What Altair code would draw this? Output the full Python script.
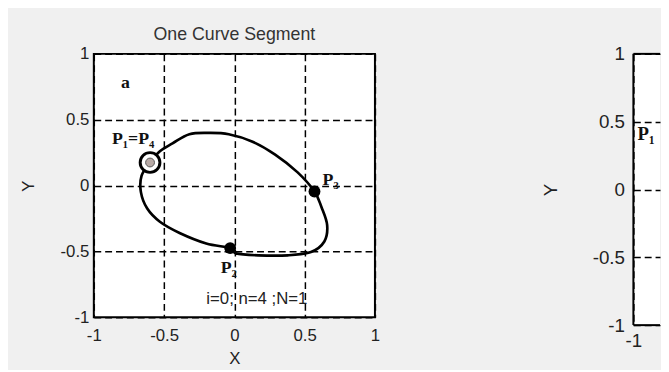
import altair as alt
import pandas as pd

# ---- data ----
curve_x = [-0.60, -0.53, -0.44, -0.32, -0.18, -0.04, 0.125, 0.29, 0.45, 0.57, 0.62, 0.66, 0.64,
           0.545, 0.38, 0.17, 0.01, -0.03, -0.20, -0.39, -0.53, -0.62, -0.665, -0.66]
curve_y = [0.175, 0.26, 0.32, 0.39, 0.40, 0.39, 0.335, 0.235, 0.10, -0.045, -0.165, -0.30, -0.425,
           -0.505, -0.53, -0.53, -0.515, -0.475, -0.44, -0.36, -0.275, -0.175, -0.05, 0.075]

start_x = [-0.60]          # P1 = P4
start_y = [0.175]
ctrl_x = [-0.03, 0.57]     # P2, P3
ctrl_y = [-0.475, -0.045]

tick_values = [-1, -0.5, 0, 0.5, 1]

serif_labels = ["a", "P\u2081=P\u2084", "P\u2082", "P\u2083"]
serif_x = [-0.775, -0.72, -0.04, 0.685]
serif_y = [0.775, 0.35, -0.63, 0.04]

info_text = ["i=0; n=4 ;N=1"]
info_x = [0.16]
info_y = [-0.86]

# panel b: only its left edge is inside the picture
b_domain_x = [-1, -0.81]
b_x_ticks = [-1]
b_labels = ["P\u2081"]
b_x = [-0.91]
b_y = [0.41]

# ---- tables ----
curve = pd.DataFrame({"x": curve_x, "y": curve_y, "i": list(range(len(curve_x)))})
start = pd.DataFrame({"x": start_x, "y": start_y})
ctrl = pd.DataFrame({"x": ctrl_x, "y": ctrl_y})
serif = pd.DataFrame({"x": serif_x, "y": serif_y, "t": serif_labels})
info = pd.DataFrame({"x": info_x, "y": info_y, "t": info_text})
bdf = pd.DataFrame({"x": b_x, "y": b_y, "t": b_labels})
frame = pd.DataFrame({
    "x": [b_domain_x[0], b_domain_x[0], b_domain_x[0]],
    "x2": [b_domain_x[0], b_domain_x[1], b_domain_x[1]],
    "y": [-1, 1, -1],
    "y2": [1, 1, -1],
})

SANS = "Liberation Sans"
SERIF = "Liberation Serif"
LBL = "replace(format(datum.value, ''), '\u2212', '-')"


def xenc(fs=17, lp=11, tp=7, values=tick_values, domain=(-1, 1), title="X"):
    kw = dict(values=values, ticks=False, domain=False, labelFont=SANS,
              labelFontSize=fs, labelColor="#222", labelPadding=lp, labelExpr=LBL,
              grid=True, gridColor="black", gridDash=[7, 4], gridWidth=1.5,
              gridOpacity=1, labelFlush=False)
    if title:
        kw.update(title=title, titleFont=SANS, titleFontSize=fs, titleFontWeight="normal",
                  titleColor="#222", titlePadding=tp)
    else:
        kw.update(title="")
    return alt.X("x:Q", scale=alt.Scale(domain=list(domain), nice=False, zero=False),
                 axis=alt.Axis(**kw))


def yenc(fs=17, lp=5, tp=23):
    ax = alt.Axis(values=tick_values, title="Y", ticks=False, domain=False, labelFont=SANS,
                  labelFontSize=fs, labelColor="#222", labelPadding=lp, labelExpr=LBL,
                  titleFont=SANS, titleFontSize=fs, titleFontWeight="normal", titleColor="#222",
                  titlePadding=tp, grid=True, gridColor="black", gridDash=[7, 4], gridWidth=1.5,
                  gridOpacity=1, labelFlush=False)
    return alt.Y("y:Q", scale=alt.Scale(domain=[-1, 1], nice=False, zero=False), axis=ax)


XA = xenc()
YA = yenc()

line = alt.Chart(curve).mark_line(color="black", strokeWidth=2.7, interpolate="cardinal-closed").encode(
    x=XA, y=YA, order="i:Q")
ring = alt.Chart(start).mark_point(shape="circle", filled=True, fill="white", stroke="black",
                                   strokeWidth=3, size=400, opacity=1).encode(x=XA, y=YA)
dot = alt.Chart(start).mark_point(shape="circle", filled=True, fill="#b8aaa6", stroke="#555",
                                  strokeWidth=1, size=80, opacity=1).encode(x=XA, y=YA)
ctrl_pts = alt.Chart(ctrl).mark_point(shape="circle", filled=True, color="black", size=145,
                                      opacity=1).encode(x=XA, y=YA)
serif_txt = alt.Chart(serif).mark_text(font=SERIF, fontWeight="bold", fontSize=18, color="#111",
                                       align="center", baseline="middle").encode(
    x=XA, y=YA, text="t:N")
info_txt = alt.Chart(info).mark_text(font=SANS, fontSize=17, color="#222", align="center",
                                     baseline="middle").encode(x=XA, y=YA, text="t:N")

panel_a = alt.layer(line, ring, dot, ctrl_pts, serif_txt, info_txt).properties(
    width=285, height=267,
    view=alt.ViewBackground(stroke="black", strokeWidth=2, fill="white"),
    title=alt.TitleParams("One Curve Segment", font=SANS, fontSize=18, fontWeight="normal",
                          color="#333", offset=1))

XB = xenc(fs=19, lp=7, values=b_x_ticks, domain=b_domain_x, title=None)
YB = yenc(fs=19, lp=9, tp=32)

b_frame = alt.Chart(frame).mark_rule(color="black", strokeWidth=2).encode(
    x=XB, x2="x2:Q", y=YB, y2="y2:Q")
b_text = alt.Chart(bdf).mark_text(font=SERIF, fontWeight="bold", fontSize=19, color="#111",
                                  align="center", baseline="middle").encode(x=XB, y=YB, text="t:N")

panel_b = alt.layer(b_frame, b_text).properties(
    width=27, height=275,
    view=alt.ViewBackground(stroke="transparent", strokeWidth=0, fill="white"))

chart = alt.hconcat(panel_a, panel_b, spacing=163).properties(
    background="#f0f0f0", padding={"left": 10, "top": 15, "right": 0, "bottom": 0}
)

chart.save("out.html", embed_options={"renderer": "svg", "actions": False})
